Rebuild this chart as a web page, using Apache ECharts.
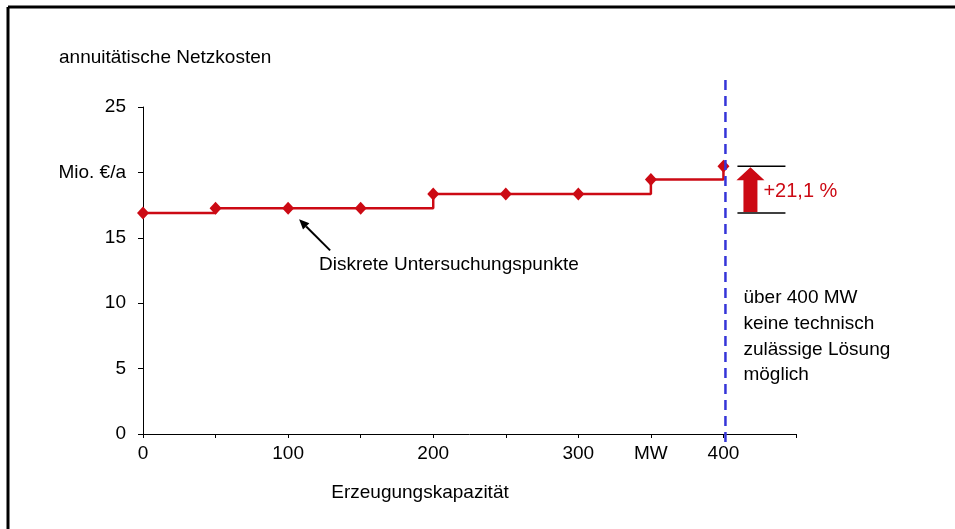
<!DOCTYPE html>
<html>
<head>
<meta charset="utf-8">
<script src="https://cdn.jsdelivr.net/npm/echarts@6/dist/echarts.min.js"></script>
<style>
  html, body { margin: 0; padding: 0; background: #ffffff; }
  #chart { width: 955px; height: 529px; }
</style>
</head>
<body>
<div id="chart"></div>
<script>
// Generation capacity (MW) at the discrete study points and annual network cost (Mio. €/a)
const capacityMW = [0, 50, 100, 150, 200, 250, 300, 350, 400];
const annualCost = [16.9, 17.25, 17.25, 17.25, 18.35, 18.35, 18.35, 19.45, 20.47];

// Axis tick labels (unlabelled ticks stay empty)
const xTickLabels = { 0: '0', 100: '100', 200: '200', 300: '300', 350: 'MW', 400: '400' };
const yTickLabels = { 0: '0', 5: '5', 10: '10', 15: '15', 20: 'Mio. €/a', 25: '25' };

const yAxisTitle = 'annuitätische Netzkosten';
const xAxisTitle = 'Erzeugungskapazität';
const pointsNote = 'Diskrete Untersuchungspunkte';
const increaseLabel = '+21,1 %';
const limitNote = ['über 400 MW', 'keine technisch', 'zulässige Lösung', 'möglich'];
const limitMW = 400;

const FONT = "'Liberation Sans', Arial, sans-serif";
const FS = 19;
const RED = '#cc0a14';
const BLUE = '#3535d8';

const chart = echarts.init(document.getElementById('chart'), null, { renderer: 'canvas' });

chart.setOption({
  backgroundColor: '#ffffff',
  animation: false,
  textStyle: { fontFamily: FONT },
  grid: { left: 143, right: 159, top: 107, bottom: 95, containLabel: false },
  xAxis: {
    type: 'value',
    min: 0, max: 450, interval: 50,
    splitLine: { show: false },
    axisLine: { lineStyle: { color: '#000', width: 1 } },
    axisTick: { show: true, length: 4, lineStyle: { color: '#000' } },
    axisLabel: {
      color: '#000', fontSize: FS, fontFamily: FONT, margin: 10,
      formatter: v => xTickLabels[v] !== undefined ? xTickLabels[v] : ''
    }
  },
  yAxis: {
    type: 'value',
    min: 0, max: 25, interval: 5,
    splitLine: { show: false },
    axisLine: { show: true, lineStyle: { color: '#000', width: 1 } },
    axisTick: { show: true, length: 5, lineStyle: { color: '#000' } },
    axisLabel: {
      color: '#000', fontSize: FS, fontFamily: FONT, margin: 17,
      formatter: v => yTickLabels[v] !== undefined ? yTickLabels[v] : ''
    }
  },
  series: [{
    type: 'line',
    step: 'end',
    data: capacityMW.map((x, i) => [x, annualCost[i]]),
    symbol: 'diamond',
    symbolSize: [12, 13],
    showAllSymbol: true,
    itemStyle: { color: RED },
    lineStyle: { color: RED, width: 2.5 },
    z: 3
  }]
});

// Annotations positioned from the chart's own scales
const px = (x, y) => chart.convertToPixel({ gridIndex: 0 }, [x, y]);
const first = annualCost[0];
const last = annualCost[annualCost.length - 1];
const pTop = px(limitMW, last);
const pBase = px(limitMW, first);
const pAxis0 = px(0, 0);
const p100 = px(capacityMW[2], annualCost[2]);

const limitX = pTop[0] + 2;
const arrowCx = limitX + 25;
const yHi = pTop[1];
const yLo = pBase[1];

// pointer arrow to the study points
const tip = [p100[0] + 11, p100[1] + 11];
const tail = [tip[0] + 31, tip[1] + 31];
const dx = tip[0] - tail[0], dy = tip[1] - tail[1];
const len = Math.hypot(dx, dy), ux = dx / len, uy = dy / len;
const hl = 10, hw = 4.5;
const headBase = [tip[0] - ux * hl, tip[1] - uy * hl];

const textStyle = (extra) => Object.assign({ fontFamily: FONT, fontSize: FS, fill: '#000' }, extra);

const graphics = [
  // frame
  { type: 'line', shape: { x1: 8, y1: 7, x2: 955, y2: 7 }, style: { stroke: '#000', lineWidth: 3 } },
  { type: 'line', shape: { x1: 8, y1: 7, x2: 8, y2: 529 }, style: { stroke: '#000', lineWidth: 3 } },
  // titles
  { type: 'text', x: 59, y: 58, style: textStyle({ text: yAxisTitle, verticalAlign: 'middle' }) },
  { type: 'text', x: 420, y: 493, style: textStyle({ text: xAxisTitle, align: 'center', verticalAlign: 'middle' }) },
  // study point note
  { type: 'text', x: 319, y: 265, style: textStyle({ text: pointsNote, verticalAlign: 'middle' }) },
  { type: 'line', shape: { x1: tail[0], y1: tail[1], x2: headBase[0], y2: headBase[1] }, style: { stroke: '#000', lineWidth: 2 } },
  { type: 'polygon', shape: { points: [tip,
      [headBase[0] - uy * hw, headBase[1] + ux * hw],
      [headBase[0] + uy * hw, headBase[1] - ux * hw]] }, style: { fill: '#000' } },
  // limit line
  { type: 'line', z: 10, shape: { x1: limitX, y1: 80, x2: limitX, y2: pAxis0[1] + 8 },
    style: { stroke: BLUE, lineWidth: 2.5, lineDash: [10, 6] } },
  // increase bracket
  { type: 'line', shape: { x1: arrowCx - 13, y1: yHi, x2: arrowCx + 35, y2: yHi }, style: { stroke: '#000', lineWidth: 1.5 } },
  { type: 'line', shape: { x1: arrowCx - 13, y1: yLo, x2: arrowCx + 35, y2: yLo }, style: { stroke: '#000', lineWidth: 1.5 } },
  { type: 'polygon', shape: { points: [
      [arrowCx, yHi + 1],
      [arrowCx + 14, yHi + 14],
      [arrowCx + 7, yHi + 14],
      [arrowCx + 7, yLo - 1],
      [arrowCx - 7, yLo - 1],
      [arrowCx - 7, yHi + 14],
      [arrowCx - 14, yHi + 14]] }, style: { fill: RED } },
  { type: 'text', x: arrowCx + 13, y: (yHi + yLo) / 2 + 2, style: textStyle({ text: increaseLabel, fill: RED, fontSize: 20, verticalAlign: 'middle' }) }
];

limitNote.forEach((line, i) => {
  graphics.push({ type: 'text', x: limitX + 18, y: 298 + i * 25.7, style: textStyle({ text: line, verticalAlign: 'middle' }) });
});

chart.setOption({ graphic: graphics });
</script>
</body>
</html>
